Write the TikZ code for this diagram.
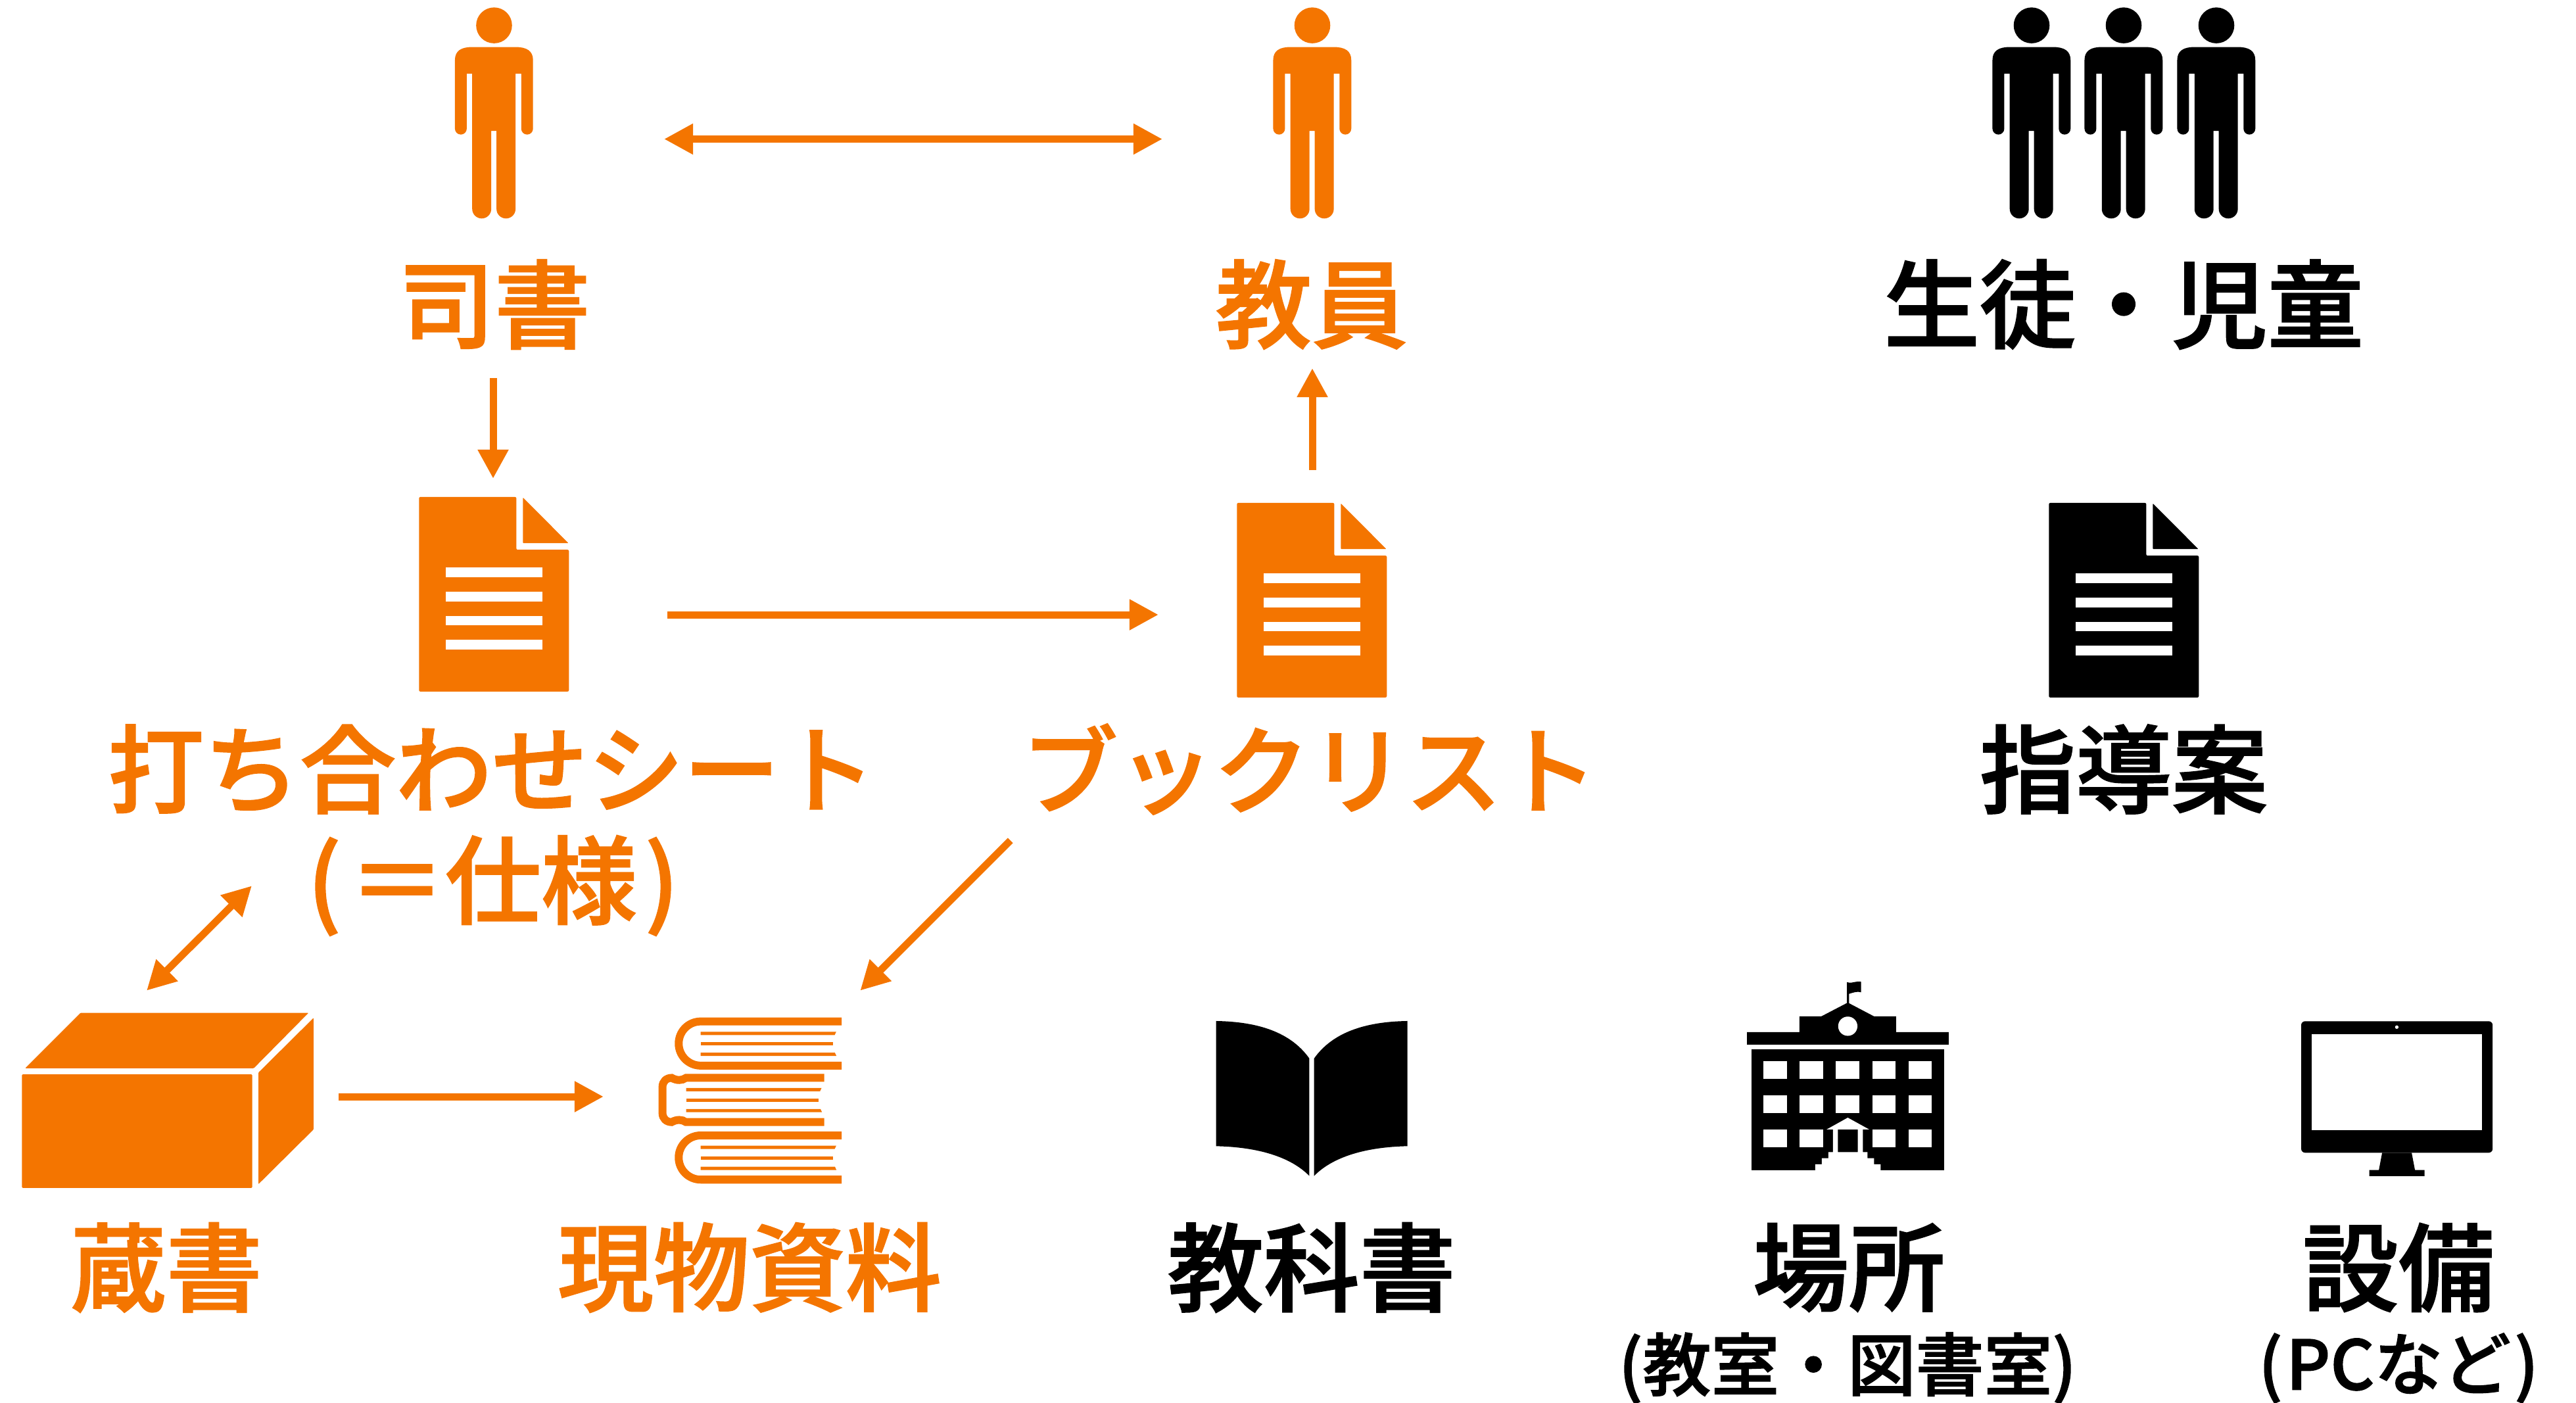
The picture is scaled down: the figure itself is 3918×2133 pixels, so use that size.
\documentclass[tikz,border=0pt]{standalone}
\usepackage{fontspec}
\usetikzlibrary{arrows.meta}
\newfontfamily\jpfont{Noto Sans CJK JP Medium}[RawFeature={embolden=1.5}]
\definecolor{orng}{HTML}{F47500}
\tikzset{
  zm/.style 2 args={shift={(#1,#2)},x=0.0033333cm,y=-0.0033333cm},
  lbl/.style={font=\jpfont\fontsize{41.5}{48}\selectfont,inner sep=0pt,anchor=center},
  lblsmall/.style={font=\jpfont\fontsize{29.5}{34}\selectfont,inner sep=0pt,anchor=center},
  conn/.style={draw=orng,line width=0.11cm,>={Triangle[length=0.44cm,width=0.44cm]}},
}
\newcommand{\personicon}[2]{%
  \begin{scope}[zm={#1}{0},fill=#2]
    \fill (335,116) circle[radius=82];
    \fill (210,337) -- (210,588) arc[start angle=0,end angle=180,radius=27] -- (156,275)
      .. controls (156,232) and (185,215) .. (235,215) -- (433,215)
      .. controls (483,215) and (513,232) .. (513,275) -- (513,588)
      arc[start angle=0,end angle=180,radius=27] -- (459,337) -- (433,337) -- (433,955)
      arc[start angle=0,end angle=180,radius=43.5] -- (346,598) -- (322,598) -- (322,955)
      arc[start angle=0,end angle=180,radius=43.5] -- (235,337) -- cycle;
  \end{scope}}
\newcommand{\docicon}[3]{%
  \begin{scope}[zm={#1}{#2},fill=#3]
    \fill[rounded corners=0.02cm] (112,48) -- (557,48) -- (557,289) -- (797,289) -- (797,937) -- (112,937) -- cycle;
    \fill[rounded corners=0.01cm] (587,50) -- (795,259) -- (587,259) -- cycle;
    \fill[white] (234,370) rectangle (675,414);
    \fill[white] (234,481) rectangle (675,525);
    \fill[white] (234,591) rectangle (675,635);
    \fill[white] (234,701) rectangle (675,745);
  \end{scope}}
\begin{document}
\begin{tikzpicture}[x=0.01cm,y=-0.01cm]
\path[use as bounding box,fill=white] (0,0) rectangle (3918,2133);

% people
\personicon{640}{orng}
\personicon{1884.5}{orng}
\personicon{2978.5}{black}
\personicon{3118.5}{black}
\personicon{3259.5}{black}

% documents
\docicon{600}{740}{orng}
\docicon{1844}{749}{orng}
\docicon{3079}{749}{black}

% storage box
\begin{scope}[zm={0}{1480},fill=orng]
  \fill[rounded corners=0.015cm] (100,463) rectangle (1153,982);
  \fill[rounded corners=0.01cm] (115,435) -- (1160,435) -- (1410,182) -- (368,182) -- cycle;
  \fill[rounded corners=0.01cm] (1181,455) -- (1433,205) -- (1433,715) -- (1181,965) -- cycle;
\end{scope}

% book stack
\begin{scope}[zm={980}{1520}]
  \foreach \d in {0,521}{
    \draw[orng,line width=0.12cm] (902,101+\d) -- (258,101+\d)
      arc[start angle=270,end angle=90,radius=101] -- (902,303+\d);
    \fill[orng] (257,148+\d) -- (877,148+\d) -- (870,163+\d) -- (257,163+\d) -- cycle;
    \fill[orng] (257,196+\d) -- (863,196+\d) -- (863,211+\d) -- (257,211+\d) -- cycle;
    \fill[orng] (257,244+\d) -- (871,244+\d) -- (878,259+\d) -- (257,259+\d) -- cycle;
  }
  \draw[orng,line width=0.12cm] (822,359) -- (190,359)
    .. controls (172,372) and (148,372) .. (125,359)
    .. controls (100,359) and (83,376) .. (83,400) -- (83,520)
    .. controls (83,544) and (100,561) .. (125,561)
    .. controls (148,548) and (172,548) .. (190,561) -- (822,561);
  \fill[orng] (191,405) -- (810,405) -- (803,420) -- (191,420) -- cycle;
  \fill[orng] (191,453) -- (797,453) -- (797,468) -- (191,468) -- cycle;
  \fill[orng] (191,501) -- (805,501) -- (812,516) -- (191,516) -- cycle;
\end{scope}

% open textbook
\begin{scope}[zm={1820}{1530}]
  \fill (89,69) .. controls (280,72) and (430,120) .. (515,240) -- (515,777)
     .. controls (430,690) and (280,645) .. (89,641) -- cycle;
  \fill (963,69) .. controls (772,72) and (622,120) .. (537,240) -- (537,777)
     .. controls (622,690) and (772,645) .. (963,641) -- cycle;
\end{scope}

% school
\begin{scope}[zm={2640}{1480}]
  \fill (508,42) .. controls (525,50) and (550,35) .. (573,40) -- (573,88)
     .. controls (555,82) and (535,90) .. (518,95) -- (518,140) -- (508,140) -- cycle;
  \fill (512,135) -- (632,198) -- (733,198) -- (733,270) -- (973,270) -- (973,327) -- (51,327)
     -- (51,270) -- (291,270) -- (291,198) -- (391,198) -- cycle;
  \fill[white] (512,243) circle[radius=44];
  \fill (72,349) rectangle (952,902);
  \foreach \xa/\xb in {127/234,292/399,458/565,624/730,789/895}{
    \fill[white] (\xa,404) rectangle (\xb,484);
    \fill[white] (\xa,560) rectangle (\xb,640);
  }
  \foreach \xa/\xb in {127/234,292/399,624/730,789/895}{
    \fill[white] (\xa,716) rectangle (\xb,796);
  }
  \fill[white] (512,661) -- (610,715) -- (415,715) -- cycle;
  \fill[white] (444,715) -- (467,715) -- (467,818) -- (558,818) -- (558,715) -- (581,715)
     -- (581,818) -- (602,818) -- (602,846) -- (632,846) -- (632,874) -- (662,874) -- (662,903)
     -- (363,903) -- (363,874) -- (393,874) -- (393,846) -- (423,846) -- (423,818) -- (444,818) -- cycle;
\end{scope}

% monitor
\begin{scope}[zm={3480}{1530}]
  \fill[rounded corners=0.06cm] (60,70) rectangle (935,671);
  \fill[white] (109,128) rectangle (885,569);
  \fill[white] (497,97) circle[radius=8];
  \fill (430,671) -- (415,750) -- (371,750) -- (371,778) -- (624,778) -- (624,750) -- (580,750) -- (565,671) -- cycle;
\end{scope}

% labels
\node[lbl,orng] (sisho) at (752,463) {司書};
\node[lbl,orng] (kyoin) at (1995,463) {教員};
\node[lbl] (seito) at (3230,463) {生徒・児童};
\node[lbl,orng] (uchiawase) at (748,1170) {打ち合わせシート};
\node[lbl,orng] (shiyo) at (750,1347) {(\kern.08em＝仕様\kern.08em)};
\node[lbl,orng] (booklist) at (1992,1170) {ブックリスト};
\node[lbl] (shidoan) at (3230,1170) {指導案};
\node[lbl,orng] (zosho) at (253,1928) {蔵書};
\node[lbl,orng] (genbutsu) at (1140,1928) {現物資料};
\node[lbl] (kyokasho) at (1995,1928) {教科書};
\node[lbl] (basho) at (2812,1928) {場所};
\node[lbl] (setsubi) at (3648,1928) {設備};
\node[lblsmall] (bashosub) at (2810,2081) {(教室・図書室)};
\node[lblsmall] (setsubisub) at (3648,2081) {(\kern.05em PCなど\kern.05em)};

% connector ends
\coordinate (a1s) at (1010,211.5);
\coordinate (a1e) at (1768,211.5);
\coordinate (a2s) at (750,575);
\coordinate (a2e) at (750,728);
\coordinate (a3s) at (1996,715);
\coordinate (a3e) at (1996,560);
\coordinate (a4s) at (1015,935);
\coordinate (a4e) at (1762,935);
\coordinate (a5s) at (223,1506.7);
\coordinate (a5e) at (383,1347.3);
\coordinate (a6s) at (1536.7,1278.3);
\coordinate (a6e) at (1308.3,1506.7);
\coordinate (a7s) at (515,1668);
\coordinate (a7e) at (918,1668);

\draw[conn,<->] (a1s) -- (a1e);
\draw[conn,->] (a2s) -- (a2e);
\draw[conn,->] (a3s) -- (a3e);
\draw[conn,->] (a4s) -- (a4e);
\draw[conn,<->] (a5s) -- (a5e);
\draw[conn,->] (a6s) -- (a6e);
\draw[conn,->] (a7s) -- (a7e);
\end{tikzpicture}
\end{document}
